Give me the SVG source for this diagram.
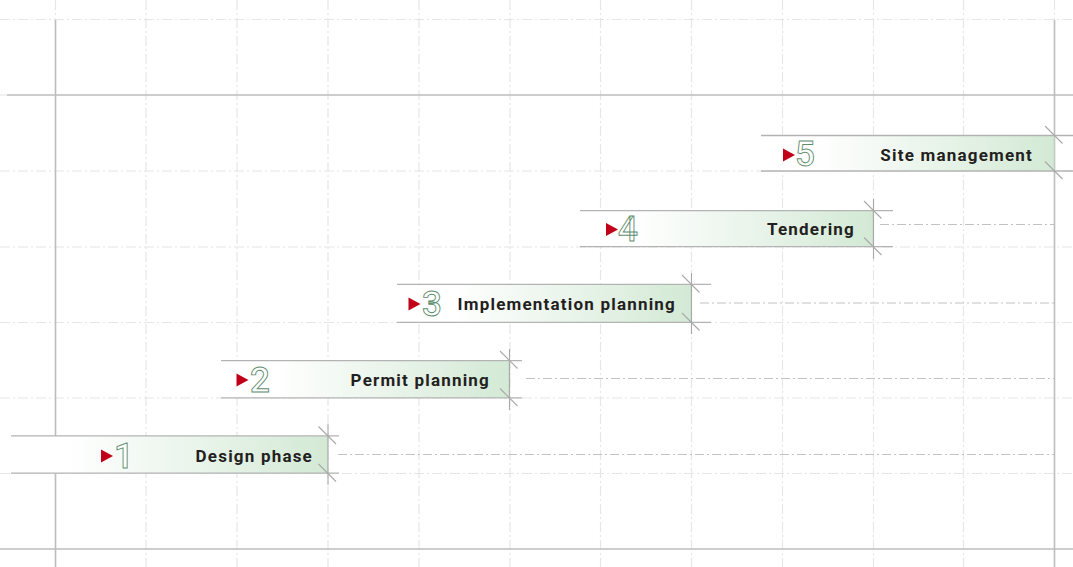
<svg xmlns="http://www.w3.org/2000/svg" width="1073" height="567" viewBox="0 0 1073 567">
<defs>
<linearGradient id="barfill" x1="0" y1="0" x2="1" y2="0">
<stop offset="0" stop-color="#ffffff"/>
<stop offset="0.18" stop-color="#ffffff"/>
<stop offset="1" stop-color="#d3e9d5"/>
</linearGradient>
<path id="tri" d="M0,-6.5 L12,0 L0,6.5 Z"/>
</defs>
<style>
.grid{stroke:#e6e6e6;stroke-width:1.2;stroke-dasharray:10 3 2 3;fill:none}
.axis{stroke:#bdbdbd;stroke-width:1.6;fill:none}
.bar{fill:url(#barfill);stroke:none}
.edge{stroke:#c5dbc7;stroke-width:1}
.bl{stroke:#b3b3b3;stroke-width:1.3}
.tick{stroke:#a9a9a9;stroke-width:1.1}
.ext{stroke:#c2c2c2;stroke-width:1.1;stroke-dasharray:9 3 2 3;fill:none}
.lbl{font-family:Roboto,"Liberation Sans",sans-serif;font-weight:700;font-size:17px;fill:#231f20;letter-spacing:1.2px;text-anchor:end}
.num{font-family:Roboto,"Liberation Sans",sans-serif;font-weight:500;font-size:35px;fill:#ffffff;stroke:#5e8c6e;stroke-width:0.9}
.arr{fill:#c00018}
</style>
<rect width="1073" height="567" fill="#ffffff"/>
<g id="grid">
<line class="grid" x1="146" y1="0" x2="146" y2="567"/>
<line class="grid" x1="237" y1="0" x2="237" y2="567"/>
<line class="grid" x1="328" y1="0" x2="328" y2="567"/>
<line class="grid" x1="419" y1="0" x2="419" y2="567"/>
<line class="grid" x1="510" y1="0" x2="510" y2="567"/>
<line class="grid" x1="600.5" y1="0" x2="600.5" y2="567"/>
<line class="grid" x1="691.5" y1="0" x2="691.5" y2="567"/>
<line class="grid" x1="782.5" y1="0" x2="782.5" y2="567"/>
<line class="grid" x1="873.5" y1="0" x2="873.5" y2="567"/>
<line class="grid" x1="963.5" y1="0" x2="963.5" y2="567"/>
<line class="grid" x1="55.5" y1="0" x2="55.5" y2="20"/>
<line class="grid" x1="1054.5" y1="0" x2="1054.5" y2="20"/>
<line class="grid" x1="0" y1="19.5" x2="1073" y2="19.5"/>
<line class="grid" x1="0" y1="171" x2="1073" y2="171"/>
<line class="grid" x1="0" y1="247" x2="1073" y2="247"/>
<line class="grid" x1="0" y1="322.5" x2="1073" y2="322.5"/>
<line class="grid" x1="0" y1="398" x2="1073" y2="398"/>
<line class="grid" x1="0" y1="473.5" x2="1073" y2="473.5"/>
<line class="grid" x1="0" y1="95" x2="7" y2="95"/>
</g>
<g id="axes">
<line class="axis" x1="55.5" y1="20" x2="55.5" y2="567"/>
<line class="axis" x1="1054.5" y1="20" x2="1054.5" y2="567"/>
<line class="axis" x1="7" y1="95" x2="1073" y2="95"/>
<line class="axis" x1="0" y1="549" x2="1073" y2="549"/>
</g>
<g id="connectors">
<line class="ext" x1="338" y1="454.5" x2="1054" y2="454.5"/>
<line class="ext" x1="526" y1="378.5" x2="1054" y2="378.5"/>
<line class="ext" x1="700" y1="303" x2="1054" y2="303"/>
<line class="ext" x1="880" y1="224.5" x2="1054" y2="224.5"/>
</g>
<g id="phase1">
<rect class="bar" x="11" y="436" width="317" height="37.5"/>
<line class="edge" x1="327.5" y1="436" x2="327.5" y2="473.5"/>
<line class="bl" x1="11" y1="435.8" x2="339" y2="435.8"/>
<line class="bl" x1="11" y1="473.2" x2="339" y2="473.2"/>
<line class="tick" x1="328" y1="424" x2="328" y2="485"/>
<line class="tick" x1="318.5" y1="426.5" x2="336" y2="444"/>
<line class="tick" x1="318.5" y1="464" x2="336" y2="481.5"/>
<use href="#tri" class="arr" x="101" y="456"/>
<text class="num" x="114" y="467.5">1</text>
<text class="lbl" x="313" y="461.7">Design phase</text>
</g>
<g id="phase2">
<rect class="bar" x="221" y="360.5" width="288.5" height="37.5"/>
<line class="edge" x1="509" y1="360.5" x2="509" y2="398"/>
<line class="bl" x1="221" y1="360.6" x2="522" y2="360.6"/>
<line class="bl" x1="221" y1="397.8" x2="522" y2="397.8"/>
<line class="tick" x1="509.5" y1="349" x2="509.5" y2="410"/>
<line class="tick" x1="500" y1="351" x2="517.5" y2="368.5"/>
<line class="tick" x1="500" y1="388.5" x2="517.5" y2="406"/>
<use href="#tri" class="arr" x="236.5" y="380"/>
<text class="num" x="250" y="391.5">2</text>
<text class="lbl" x="490" y="385.7">Permit planning</text>
</g>
<g id="phase3">
<rect class="bar" x="397" y="284.5" width="294.5" height="38"/>
<line class="edge" x1="691" y1="284.5" x2="691" y2="322.5"/>
<line class="bl" x1="397" y1="284.4" x2="711" y2="284.4"/>
<line class="bl" x1="397" y1="322.3" x2="711" y2="322.3"/>
<line class="tick" x1="691.5" y1="273" x2="691.5" y2="334"/>
<line class="tick" x1="682" y1="275" x2="699.5" y2="292.5"/>
<line class="tick" x1="682" y1="313" x2="699.5" y2="330.5"/>
<use href="#tri" class="arr" x="408.5" y="304"/>
<text class="num" x="422" y="315.5">3</text>
<text class="lbl" x="676" y="310">Implementation planning</text>
</g>
<g id="phase4">
<rect class="bar" x="580" y="210.7" width="293.5" height="36"/>
<line class="edge" x1="873" y1="210.7" x2="873" y2="246.7"/>
<line class="bl" x1="580" y1="210.7" x2="893" y2="210.7"/>
<line class="bl" x1="580" y1="246.7" x2="893" y2="246.7"/>
<line class="tick" x1="873.5" y1="199" x2="873.5" y2="259"/>
<line class="tick" x1="864" y1="201" x2="881.5" y2="218.5"/>
<line class="tick" x1="864" y1="237.5" x2="881.5" y2="255"/>
<use href="#tri" class="arr" x="606" y="229.5"/>
<text class="num" x="618" y="241">4</text>
<text class="lbl" x="855" y="235">Tendering</text>
</g>
<g id="phase5">
<rect class="bar" x="761" y="135.5" width="293" height="35.5"/>
<line class="edge" x1="1054" y1="135.5" x2="1054" y2="171"/>
<line class="bl" x1="761" y1="135.5" x2="1073" y2="135.5"/>
<line class="bl" x1="761" y1="171" x2="1073" y2="171"/>
<line class="tick" x1="1045" y1="126" x2="1062.5" y2="143.5"/>
<line class="tick" x1="1045" y1="161.5" x2="1062.5" y2="179"/>
<use href="#tri" class="arr" x="783" y="155"/>
<text class="num" x="795" y="166">5</text>
<text class="lbl" x="1033" y="160.5">Site management</text>
</g>
</svg>
